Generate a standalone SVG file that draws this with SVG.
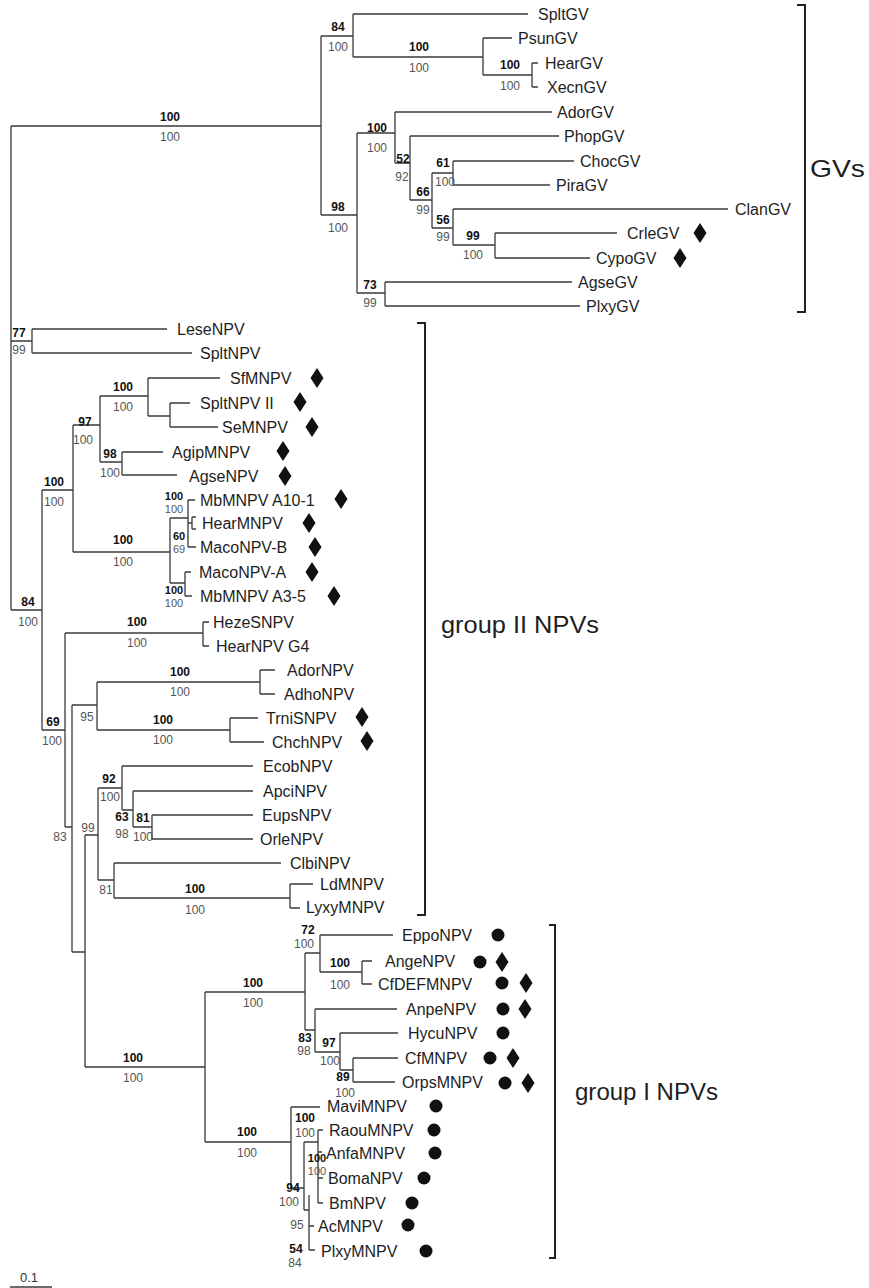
<svg xmlns="http://www.w3.org/2000/svg" width="869" height="1288" viewBox="0 0 869 1288">
  <defs>
    <style>
      .br { fill: none; stroke: #3a3a3a; stroke-width: 1.3; }
      .bk { fill: none; stroke: #222; stroke-width: 2; }
      text { font-family: "Liberation Sans", Arial, sans-serif; dominant-baseline: central; }
      .tx { font-size: 16px; fill: #1e1e1e; }
      .bs { font-size: 12px; font-weight: bold; fill: #111; text-anchor: middle; }
      .ss { font-size: 12px; fill: #555; text-anchor: middle; }
      .sm { font-size: 11px; }
      .grp { font-size: 24px; fill: #1e1e1e; }
      .mk { fill: #111; }
    </style>
    <path id="dia" class="mk" d="M0,-10 L6.5,0 L0,10 L-6.5,0 Z"/>
    <circle id="dot" class="mk" r="6.5"/>
  </defs>
  <rect width="869" height="1288" fill="#fff"/>

  <!-- tree branches -->
  <g id="connectors" class="br">
    <!-- granulovirus clade -->
    <path d="M11,126 H321 M321,36 V215 M321,36 H353 M353,14 V57 M353,14 H528 M353,57 H483 M483,38 V75 M483,38 H512 M483,75 H532 M532,63 V87 M532,63 H538 M532,87 H538"/>
    <path d="M321,215 H357 M357,133 V293 M357,133 H395 M395,112 V163 M395,112 H552 M395,163 H410 M410,136 V200 M410,136 H559 M410,200 H432 M432,173 V228 M432,173 H453 M453,161 V185 M453,161 H574 M453,185 H550 M432,228 H453 M453,209 V245 M453,209 H728 M453,245 H495 M495,233 V258 M495,233 H617 M495,258 H590"/>
    <path d="M357,293 H385 M385,282 V306 M385,282 H572 M385,306 H580"/>
    <!-- group II NPVs -->
    <path d="M11,126 V610 M11,341 H32 M32,329 V353 M32,329 H167 M32,353 H192"/>
    <path d="M11,610 H42 M42,490 V730 M42,490 H73 M73,425 V552 M73,425 H100 M100,396 V462 M100,396 H148 M148,378 V416 M148,378 H220 M148,416 H170 M170,403 V427 M170,403 H190 M170,427 H218 M100,462 H122 M122,452 V475 M122,452 H163 M122,475 H177"/>
    <path d="M73,552 H170 M170,518 V583 M170,518 H188 M188,500 V547 M188,500 H195 M188,547 H196 M188,523 H192 M192,517 V529 M192,517 H196 M192,529 H196 M170,583 H185 M185,572 V596 M185,572 H191 M185,596 H192"/>
    <path d="M42,730 H65 M65,633 V827 M65,633 H203 M203,622 V646 M203,622 H209 M203,646 H209 M65,827 H72 M72,705 V952 M72,705 H97 M97,682 V730 M97,682 H260 M260,670 V694 M260,670 H275 M260,694 H275 M97,730 H230 M230,718 V742 M230,718 H258 M230,742 H264"/>
    <path d="M72,952 H85 M85,835 V1067 M85,835 H98 M98,788 V880 M98,788 H122 M122,766 V810 M122,766 H253 M122,810 H133 M133,791 V827 M133,791 H253 M133,827 H152 M152,815 V839 M152,815 H253 M152,839 H253 M98,880 H114 M114,863 V898 M114,863 H281 M114,898 H290 M290,884 V908 M290,884 H313 M290,908 H300"/>
    <!-- group I NPVs -->
    <path d="M85,1067 H205 M205,992 V1142 M205,992 H305 M305,953 V1030 M305,953 H320 M320,935 V972 M320,935 H393 M320,972 H362 M362,961 V984 M362,961 H372 M362,984 H372 M305,1030 H315 M315,1009 V1052 M315,1009 H397 M315,1052 H340 M340,1033 V1070 M340,1033 H398 M340,1070 H353 M353,1058 V1082 M353,1058 H398 M353,1082 H395"/>
    <path d="M205,1142 H291 M291,1107 V1188 M291,1107 H320 M291,1188 H304 M304,1142 V1210 M304,1142 H318 M318,1130 V1203 M318,1130 H323 M318,1152 H322 M318,1178 H323 M318,1203 H323 M304,1210 H309 M309,1195 V1250 M309,1226 H314 M309,1250 H315"/>
  </g>

  <!-- clade brackets -->
  <g id="bracket-GVs">
    <path class="bk" d="M797,5 H805 V312 H797"/>
    <text class="grp" x="810" y="168" textLength="55" lengthAdjust="spacingAndGlyphs">GVs</text>
  </g>
  <g id="bracket-groupII">
    <path class="bk" d="M417,323 H425 V915 H417"/>
    <text class="grp" x="441" y="624" textLength="158" lengthAdjust="spacingAndGlyphs">group II NPVs</text>
  </g>
  <g id="bracket-groupI">
    <path class="bk" d="M549,925 H555 V1258 H549"/>
    <text class="grp" x="575" y="1091" textLength="143" lengthAdjust="spacingAndGlyphs">group I NPVs</text>
  </g>

  <!-- support values: bootstrap (bold) over second support (regular) -->
  <g id="supports">
    <text class="bs" x="170" y="117">100</text><text class="ss" x="170" y="137">100</text>
    <text class="bs" x="338" y="27">84</text><text class="ss" x="338" y="47">100</text>
    <text class="bs" x="419" y="47">100</text><text class="ss" x="419" y="68">100</text>
    <text class="bs" x="510" y="65">100</text><text class="ss" x="510" y="86">100</text>
    <text class="bs" x="377" y="128">100</text><text class="ss" x="377" y="148">100</text>
    <text class="bs" x="403" y="159">52</text><text class="ss" x="402" y="177">92</text>
    <text class="bs" x="423" y="192">66</text><text class="ss" x="423" y="210">99</text>
    <text class="bs" x="443" y="163">61</text><text class="ss" x="445" y="182">100</text>
    <text class="bs" x="443" y="220">56</text><text class="ss" x="443" y="237">99</text>
    <text class="bs" x="473" y="236">99</text><text class="ss" x="473" y="255">100</text>
    <text class="bs" x="338" y="207">98</text><text class="ss" x="338" y="228">100</text>
    <text class="bs" x="370" y="285">73</text><text class="ss" x="370" y="303">99</text>

    <text class="bs" x="19" y="333">77</text><text class="ss" x="19" y="350">99</text>
    <text class="bs" x="123" y="387">100</text><text class="ss" x="123" y="407">100</text>
    <text class="bs" x="85" y="422">97</text><text class="ss" x="83" y="440">100</text>
    <text class="bs" x="110" y="454">98</text><text class="ss" x="110" y="473">100</text>
    <text class="bs" x="54" y="482">100</text><text class="ss" x="54" y="502">100</text>
    <text class="bs" x="123" y="540">100</text><text class="ss" x="123" y="562">100</text>
    <text class="bs sm" x="174" y="496">100</text><text class="ss sm" x="174" y="509">100</text>
    <text class="bs sm" x="179" y="536">60</text><text class="ss sm" x="179" y="549">69</text>
    <text class="bs sm" x="174" y="590">100</text><text class="ss sm" x="174" y="603">100</text>
    <text class="bs" x="28" y="602">84</text><text class="ss" x="28" y="622">100</text>
    <text class="bs" x="137" y="622">100</text><text class="ss" x="137" y="643">100</text>
    <text class="bs" x="53" y="722">69</text><text class="ss" x="52" y="741">100</text>
    <text class="bs" x="180" y="672">100</text><text class="ss" x="180" y="692">100</text>
    <text class="ss" x="87" y="717">95</text>
    <text class="bs" x="163" y="720">100</text><text class="ss" x="163" y="740">100</text>
    <text class="bs" x="109" y="779">92</text><text class="ss" x="110" y="797">100</text>
    <text class="bs" x="122" y="817">63</text><text class="ss" x="122" y="834">98</text>
    <text class="bs" x="143" y="818">81</text><text class="ss" x="143" y="837">100</text>
    <text class="ss" x="60" y="837">83</text>
    <text class="ss" x="88" y="828">99</text>
    <text class="ss" x="106" y="890">81</text>
    <text class="bs" x="195" y="889">100</text><text class="ss" x="195" y="910">100</text>

    <text class="bs" x="133" y="1058">100</text><text class="ss" x="133" y="1078">100</text>
    <text class="bs" x="253" y="983">100</text><text class="ss" x="253" y="1003">100</text>
    <text class="bs" x="247" y="1132">100</text><text class="ss" x="247" y="1153">100</text>
    <text class="bs" x="308" y="930">72</text><text class="ss" x="304" y="944">100</text>
    <text class="bs" x="340" y="963">100</text><text class="ss" x="340" y="985">100</text>
    <text class="bs" x="305" y="1038">83</text><text class="ss" x="304" y="1051">98</text>
    <text class="bs" x="329" y="1043">97</text><text class="ss" x="330" y="1061">100</text>
    <text class="bs" x="343" y="1077">89</text><text class="ss" x="345" y="1093">100</text>
    <text class="bs" x="305" y="1118">100</text><text class="ss" x="305" y="1133">100</text>
    <text class="bs sm" x="317" y="1158">100</text><text class="ss sm" x="317" y="1171">100</text>
    <text class="bs" x="293" y="1188">94</text><text class="ss" x="289" y="1202">100</text>
    <text class="ss" x="297" y="1225">95</text>
    <text class="bs" x="296" y="1249">54</text><text class="ss" x="295" y="1263">84</text>
  </g>

  <!-- granuloviruses -->
  <g id="t-SpltGV"><text class="tx" x="538" y="14">SpltGV</text></g>
  <g id="t-PsunGV"><text class="tx" x="518" y="38">PsunGV</text></g>
  <g id="t-HearGV"><text class="tx" x="545" y="63">HearGV</text></g>
  <g id="t-XecnGV"><text class="tx" x="547" y="87">XecnGV</text></g>
  <g id="t-AdorGV"><text class="tx" x="557" y="112">AdorGV</text></g>
  <g id="t-PhopGV"><text class="tx" x="564" y="136">PhopGV</text></g>
  <g id="t-ChocGV"><text class="tx" x="580" y="161">ChocGV</text></g>
  <g id="t-PiraGV"><text class="tx" x="556" y="185">PiraGV</text></g>
  <g id="t-ClanGV"><text class="tx" x="735" y="209">ClanGV</text></g>
  <g id="t-CrleGV"><text class="tx" x="627" y="233">CrleGV</text><use href="#dia" x="700" y="233"/></g>
  <g id="t-CypoGV"><text class="tx" x="596" y="258">CypoGV</text><use href="#dia" x="680" y="258"/></g>
  <g id="t-AgseGV"><text class="tx" x="578" y="282">AgseGV</text></g>
  <g id="t-PlxyGV"><text class="tx" x="586" y="306">PlxyGV</text></g>

  <!-- group II NPVs -->
  <g id="t-LeseNPV"><text class="tx" x="177" y="329">LeseNPV</text></g>
  <g id="t-SpltNPV"><text class="tx" x="200" y="353">SpltNPV</text></g>
  <g id="t-SfMNPV"><text class="tx" x="230" y="378">SfMNPV</text><use href="#dia" x="317" y="378"/></g>
  <g id="t-SpltNPV-II"><text class="tx" x="200" y="403">SpltNPV II</text><use href="#dia" x="300" y="402"/></g>
  <g id="t-SeMNPV"><text class="tx" x="222" y="427">SeMNPV</text><use href="#dia" x="312" y="427"/></g>
  <g id="t-AgipMNPV"><text class="tx" x="172" y="452">AgipMNPV</text><use href="#dia" x="283" y="451"/></g>
  <g id="t-AgseNPV"><text class="tx" x="189" y="476">AgseNPV</text><use href="#dia" x="285" y="476"/></g>
  <g id="t-MbMNPV-A10-1"><text class="tx" x="200" y="500">MbMNPV A10-1</text><use href="#dia" x="341" y="499"/></g>
  <g id="t-HearMNPV"><text class="tx" x="202" y="523">HearMNPV</text><use href="#dia" x="309" y="523"/></g>
  <g id="t-MacoNPV-B"><text class="tx" x="200" y="547">MacoNPV-B</text><use href="#dia" x="315" y="547"/></g>
  <g id="t-MacoNPV-A"><text class="tx" x="199" y="572">MacoNPV-A</text><use href="#dia" x="312" y="572"/></g>
  <g id="t-MbMNPV-A3-5"><text class="tx" x="200" y="596">MbMNPV A3-5</text><use href="#dia" x="334" y="596"/></g>
  <g id="t-HezeSNPV"><text class="tx" x="213" y="622">HezeSNPV</text></g>
  <g id="t-HearNPV-G4"><text class="tx" x="216" y="646">HearNPV G4</text></g>
  <g id="t-AdorNPV"><text class="tx" x="287" y="670">AdorNPV</text></g>
  <g id="t-AdhoNPV"><text class="tx" x="284" y="694">AdhoNPV</text></g>
  <g id="t-TrniSNPV"><text class="tx" x="266" y="718">TrniSNPV</text><use href="#dia" x="362" y="717"/></g>
  <g id="t-ChchNPV"><text class="tx" x="272" y="742">ChchNPV</text><use href="#dia" x="367" y="741"/></g>
  <g id="t-EcobNPV"><text class="tx" x="263" y="766">EcobNPV</text></g>
  <g id="t-ApciNPV"><text class="tx" x="263" y="791">ApciNPV</text></g>
  <g id="t-EupsNPV"><text class="tx" x="262" y="815">EupsNPV</text></g>
  <g id="t-OrleNPV"><text class="tx" x="260" y="839">OrleNPV</text></g>
  <g id="t-ClbiNPV"><text class="tx" x="290" y="863">ClbiNPV</text></g>
  <g id="t-LdMNPV"><text class="tx" x="320" y="884">LdMNPV</text></g>
  <g id="t-LyxyMNPV"><text class="tx" x="306" y="907">LyxyMNPV</text></g>

  <!-- group I NPVs -->
  <g id="t-EppoNPV"><text class="tx" x="402" y="935">EppoNPV</text><use href="#dot" x="498" y="935"/></g>
  <g id="t-AngeNPV"><text class="tx" x="385" y="961">AngeNPV</text><use href="#dot" x="480" y="962"/><use href="#dia" x="502" y="962"/></g>
  <g id="t-CfDEFMNPV"><text class="tx" x="378" y="984">CfDEFMNPV</text><use href="#dot" x="502" y="983"/><use href="#dia" x="526" y="983"/></g>
  <g id="t-AnpeNPV"><text class="tx" x="406" y="1009">AnpeNPV</text><use href="#dot" x="503" y="1009"/><use href="#dia" x="525" y="1009"/></g>
  <g id="t-HycuNPV"><text class="tx" x="408" y="1033">HycuNPV</text><use href="#dot" x="503" y="1033"/></g>
  <g id="t-CfMNPV"><text class="tx" x="405" y="1058">CfMNPV</text><use href="#dot" x="490" y="1058"/><use href="#dia" x="513" y="1058"/></g>
  <g id="t-OrpsMNPV"><text class="tx" x="402" y="1082">OrpsMNPV</text><use href="#dot" x="505" y="1083"/><use href="#dia" x="528" y="1083"/></g>
  <g id="t-MaviMNPV"><text class="tx" x="327" y="1106">MaviMNPV</text><use href="#dot" x="436" y="1106"/></g>
  <g id="t-RaouMNPV"><text class="tx" x="329" y="1130">RaouMNPV</text><use href="#dot" x="434" y="1130"/></g>
  <g id="t-AnfaMNPV"><text class="tx" x="326" y="1153">AnfaMNPV</text><use href="#dot" x="435" y="1153"/></g>
  <g id="t-BomaNPV"><text class="tx" x="328" y="1178">BomaNPV</text><use href="#dot" x="424" y="1178"/></g>
  <g id="t-BmNPV"><text class="tx" x="329" y="1203">BmNPV</text><use href="#dot" x="412" y="1203"/></g>
  <g id="t-AcMNPV"><text class="tx" x="318" y="1226">AcMNPV</text><use href="#dot" x="408" y="1225"/></g>
  <g id="t-PlxyMNPV"><text class="tx" x="321" y="1251">PlxyMNPV</text><use href="#dot" x="426" y="1251"/></g>

  <!-- scale bar -->
  <g id="scale">
    <text x="20" y="1277" style="font-size:13px;fill:#333">0.1</text>
    <path class="br" d="M10,1287 H52"/>
  </g>
</svg>
